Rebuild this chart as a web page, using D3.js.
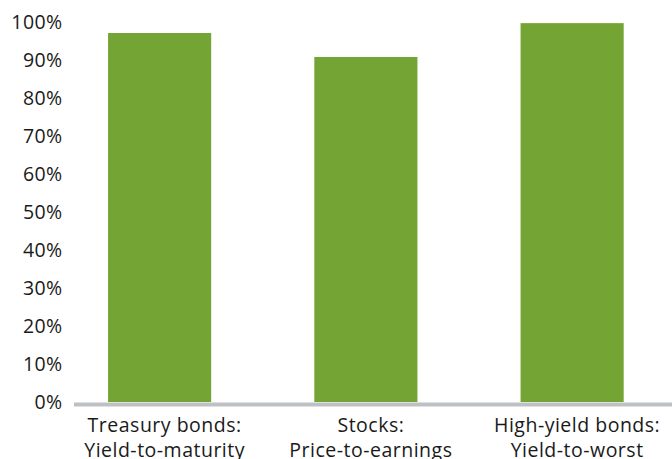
<!DOCTYPE html>
<html><head><meta charset="utf-8">
<script src="https://cdn.jsdelivr.net/npm/d3@7"></script>
<style>body{margin:0;background:#fff}svg{display:block}text{font-family:"Open Sans","Noto Sans",sans-serif;fill:#1a1a1a}</style>
</head><body>
<script>
const categories = [["Treasury bonds:","Yield-to-maturity"],["Stocks:","Price-to-earnings"],["High-yield bonds:","Yield-to-worst"]];
const values = [97.1, 90.8, 99.7];
const yTicks = [0,10,20,30,40,50,60,70,80,90,100];

const W = 672, H = 459;
const svg = d3.select("body").append("svg").attr("width", W).attr("height", H);
const x = d3.scaleBand().domain(d3.range(categories.length)).range([56.5, 675.25]).paddingInner(0.5).paddingOuter(0.25);
const y = d3.scaleLinear().domain([0, 100]).range([402, 22]);

svg.selectAll("rect.bar").data(values).join("rect").attr("class","bar")
  .attr("x", (d,i) => x(i)).attr("width", x.bandwidth())
  .attr("y", d => y(d)).attr("height", d => y(0) - y(d))
  .attr("fill", "#74a433");

svg.append("line").attr("x1", 74).attr("x2", W).attr("y1", y(0)+2.5).attr("y2", y(0)+2.5)
  .attr("stroke", "#bec1c4").attr("stroke-width", 4);

svg.selectAll("text.tick").data(yTicks).join("text").attr("class","tick")
  .attr("x", 62.5).attr("y", d => y(d)).attr("dy", "0.36em")
  .attr("text-anchor", "end").attr("font-size", 19.5).attr("letter-spacing", 0.4)
  .text(d => d + "%");

const lab = svg.selectAll("g.cat").data(categories).join("g").attr("class","cat")
  .attr("transform", (d,i) => `translate(${x(i) + x.bandwidth()/2 + 5},0)`);
lab.selectAll("text").data(d => d).join("text")
  .attr("x", 0).attr("y", (d,j) => 432 + j*24.5)
  .attr("text-anchor", "middle").attr("font-size", 19.5).attr("letter-spacing", 0.5)
  .text(d => d);
</script>
</body></html>
